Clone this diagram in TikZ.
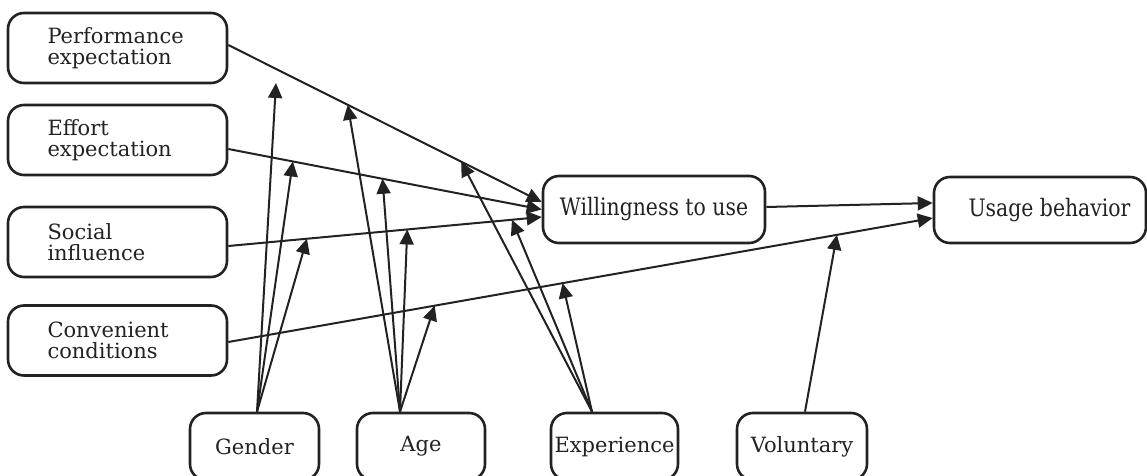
\documentclass[tikz,border=0pt]{standalone}
\usepackage{fontspec}
\setmainfont{DejaVu Serif}
\newfontfamily\narrowserif{DejaVu Serif}[FakeStretch=0.85]
\usetikzlibrary{arrows.meta,calc}
\definecolor{ink}{HTML}{222222}
\begin{document}
\begin{tikzpicture}[x=0.5pt,y=-0.5pt,
  box/.style={draw=ink,line width=1.3pt,rounded corners=8pt,inner sep=0pt,text=ink,
    font=\fontsize{10.5}{10.75}\selectfont},
  lbox/.style={box,minimum width=109.5pt,minimum height=35pt,text width=70pt,align=left},
  cbox/.style={box,font=\narrowserif\fontsize{12}{13}\selectfont},
  bbox/.style={box,minimum height=33.5pt},
  conn/.style={draw=ink,line width=1pt,-{Triangle[length=7.5pt,width=7pt]}}]
\useasboundingbox (0,0) rectangle (1147,476);
% left factor boxes
\node[lbox] (pe) at (117.5,48) {Performance\\expectation};
\node[lbox] (ee) at (117.5,140) {Effort\\expectation};
\node[lbox] (si) at (117.5,242) {Social\\influence};
\node[lbox] (cc) at (117.5,340.5) {Convenient\\conditions};
% central boxes
\node[cbox,minimum width=111pt,minimum height=33.5pt] (wu) at (654,209.5) {Willingness to use};
\node[cbox,minimum width=106pt,minimum height=33pt] (ub) at (1040,210) {\hspace*{9.5pt}Usage behavior};
% moderators
\node[bbox,minimum width=64.5pt] (ge) at (254.5,446.5) {Gender};
\node[bbox,minimum width=64pt] (ag) at (421,446.5) {Age};
\node[bbox,minimum width=63.5pt] (ex) at (614.5,446.5) {Experience};
\node[bbox,minimum width=65pt] (vo) at (802,446.5) {Voluntary};
% connector end points
\coordinate (pe-o) at ([yshift=1.5pt]pe.east);
\coordinate (ee-o) at ([yshift=-4.5pt]ee.east);
\coordinate (si-o) at ([yshift=-2pt]si.east);
\coordinate (cc-o) at ([yshift=-0.75pt]cc.east);
\coordinate (wu-i1) at ([yshift=3.75pt]wu.west);
\coordinate (wu-i2) at (wu.west);
\coordinate (wu-i3) at ([yshift=-3.75pt]wu.west);
\coordinate (wu-o) at ([yshift=1.25pt]wu.east);
\coordinate (ub-i1) at ([yshift=3.5pt]ub.west);
\coordinate (ub-i2) at ([yshift=-4pt]ub.west);
% main connectors
\draw[conn] (pe-o) -- (wu-i1);
\draw[conn] (ee-o) -- (wu-i2);
\draw[conn] (si-o) -- (wu-i3);
\draw[conn] (cc-o) -- (ub-i2);
\draw[conn] (wu-o) -- (ub-i1);
% moderator targets on the connectors
\coordinate (m-pe-a) at ($(pe-o)!0.381!(wu-i1)$);
\coordinate (m-pe-e) at ($(pe-o)!0.743!(wu-i1)$);
\coordinate (m-ee-g) at ($(ee-o)!0.206!(wu-i2)$);
\coordinate (m-ee-a) at ($(ee-o)!0.492!(wu-i2)$);
\coordinate (m-si-g) at ($(si-o)!0.251!(wu-i3)$);
\coordinate (m-si-a) at ($(si-o)!0.571!(wu-i3)$);
\coordinate (m-si-e) at ($(si-o)!0.905!(wu-i3)$);
\coordinate (m-cc-a) at ($(cc-o)!0.293!(ub-i2)$);
\coordinate (m-cc-e) at ($(cc-o)!0.4745!(ub-i2)$);
\coordinate (m-cc-v) at ($(cc-o)!0.864!(ub-i2)$);
\coordinate (g-free) at (276,83);
% moderator start points
\coordinate (ge-t) at ([xshift=1.25pt]ge.north);
\coordinate (ag-t) at ([xshift=-10.5pt]ag.north);
\coordinate (ex-t) at ([xshift=-11.25pt]ex.north);
\coordinate (vo-t) at ([xshift=1.5pt]vo.north);
% moderator arrows
\draw[conn] (ge-t) -- (g-free);
\draw[conn] (ge-t) -- (m-ee-g);
\draw[conn] (ge-t) -- (m-si-g);
\draw[conn] (ag-t) -- (m-pe-a);
\draw[conn] (ag-t) -- (m-ee-a);
\draw[conn] (ag-t) -- (m-si-a);
\draw[conn] (ag-t) -- (m-cc-a);
\draw[conn] (ex-t) -- (m-pe-e);
\draw[conn] (ex-t) -- (m-si-e);
\draw[conn] (ex-t) -- (m-cc-e);
\draw[conn] (vo-t) -- (m-cc-v);
\end{tikzpicture}
\end{document}
